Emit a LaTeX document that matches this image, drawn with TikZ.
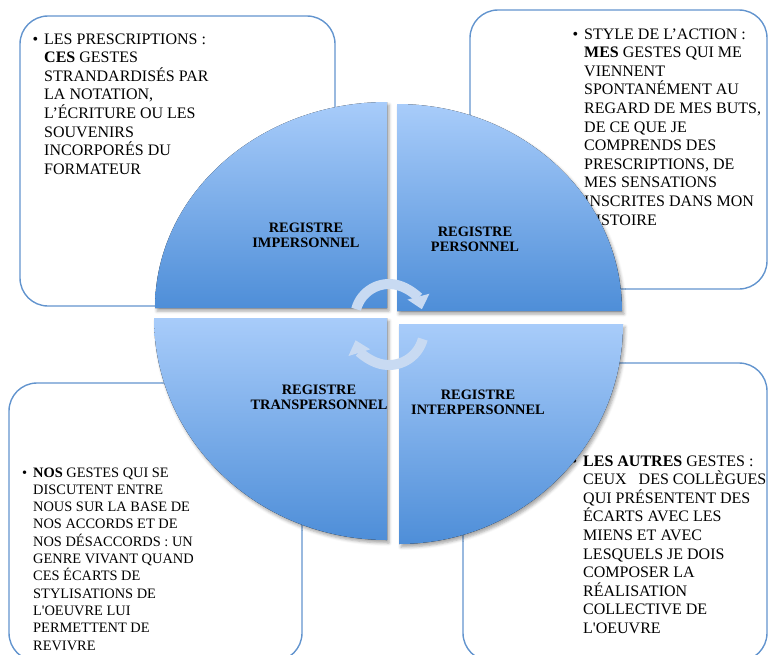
\documentclass[tikz,border=0pt]{standalone}
\usepackage{fontspec}
\setmainfont{Liberation Serif}
\usetikzlibrary{arrows.meta,shadows.blur}

\definecolor{boxline}{RGB}{98,148,206}
\definecolor{quadtop}{RGB}{168,204,250}
\definecolor{quadbot}{RGB}{78,142,216}
\definecolor{cyclearrow}{RGB}{200,218,242}

\tikzset{
  notebox/.style={draw=boxline, line width=1.4pt, rounded corners=28pt},
  notetext/.style={anchor=base west, align=left, inner sep=0pt, font=\fontsize{16}{18.6}\selectfont},
  quadrant/.style={top color=quadtop, bottom color=quadbot,
    blur shadow={shadow xshift=2pt, shadow yshift=-3pt, shadow blur radius=3pt, shadow opacity=35}},
  reglabel/.style={align=center, inner sep=0pt, font=\bfseries\fontsize{14.4}{15}\selectfont},
  cycarrow/.style={draw=cyclearrow, line width=10pt, -{Triangle[width=22pt,length=13pt]}}
}
\newcommand{\itembullet}{\llap{\textbullet\hspace{6pt}}}

\begin{document}
\begin{tikzpicture}[x=1pt,y=-1pt]
    \useasboundingbox (0,0) rectangle (769,654);
    \clip (0,0) rectangle (769,654);

    \draw[notebox] (20,16) rectangle (335,306);
    \draw[notebox] (470,10) rectangle (767,289);
    \draw[notebox] (9,383) rectangle (302,661);
    \draw[notebox] (463,363) rectangle (767,661);

    % base anchor = last line
    \node[notetext] (prescriptions) at (44,174.2) {\itembullet LES PRESCRIPTIONS :\\
        \textbf{CES} GESTES\\ STRANDARDISÉS PAR\\ LA NOTATION,\\ L’ÉCRITURE OU LES\\
        SOUVENIRS\\ INCORPORÉS DU\\ FORMATEUR};
    \node[notetext] (style) at (584,225) {\itembullet STYLE DE L’ACTION :\\
        \textbf{MES} GESTES QUI ME\\ VIENNENT\\ SPONTANÉMENT AU\\ REGARD DE MES BUTS,\\
        DE CE QUE JE\\ COMPRENDS DES\\ PRESCRIPTIONS, DE\\ MES SENSATIONS\\
        INSCRITES DANS MON\\ HISTOIRE};
    \node[notetext, font=\fontsize{14.4}{17.3}\selectfont] (nos) at (33,650) {\itembullet\textbf{NOS} GESTES QUI SE\\
        DISCUTENT ENTRE\\ NOUS SUR LA BASE DE\\ NOS ACCORDS ET DE\\ NOS DÉSACCORDS : UN\\
        GENRE VIVANT QUAND\\ CES ÉCARTS DE\\ STYLISATIONS DE\\ L\textquotesingle OEUVRE LUI\\
        PERMETTENT DE\\ REVIVRE};
    \node[notetext] (autres) at (583,633.4) {\itembullet\textbf{LES AUTRES} GESTES :\\
        CEUX\ \ \ DES COLLÈGUES\\ QUI PRÉSENTENT DES\\ ÉCARTS AVEC LES\\ MIENS ET AVEC\\
        LESQUELS JE DOIS\\ COMPOSER LA\\ RÉALISATION\\ COLLECTIVE DE\\ L\textquotesingle OEUVRE};

    \foreach \cx/\cy/\sa/\ea/\rx/\ry in {387/308/180/270/232/206, 397/311/0/-90/225/207,
        387/318/180/90/233/222, 399/324/0/90/224/220}
    \fill[quadrant] (\cx,\cy) -- ++({\rx*cos(\sa)},0) arc[start angle=\sa, end angle=\ea, x radius=\rx, y radius=\ry] -- cycle;

    \node[reglabel] (impersonnel) at (306,235) {REGISTRE\\IMPERSONNEL};
    \node[reglabel] (personnel) at (475,239) {REGISTRE\\PERSONNEL};
    \node[reglabel] (transpersonnel) at (319,397) {REGISTRE\\TRANSPERSONNEL};
    \node[reglabel] (interpersonnel) at (478,402) {REGISTRE\\INTERPERSONNEL};

    \draw[cycarrow] (389,318) ++(195:34) arc[start angle=195, end angle=345, radius=34];
    \draw[cycarrow] (389,330) ++(15:35) arc[start angle=15, end angle=163, radius=35];
\end{tikzpicture}
\end{document}
